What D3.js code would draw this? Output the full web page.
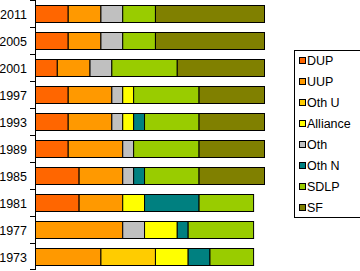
<!DOCTYPE html>
<html>
<head>
<meta charset="utf-8">
<script src="https://cdn.jsdelivr.net/npm/d3@7"></script>
<style>
html,body{margin:0;padding:0;background:#fff;}
svg{display:block;}
</style>
</head>
<body>
<svg id="chart" width="360" height="271"></svg>
<script>
const years = ["2011","2005","2001","1997","1993","1989","1985","1981","1977","1973"];
const parties = ["DUP","UUP","Oth U","Alliance","Oth","Oth N","SDLP","SF"];
const stackOrder = ["DUP","UUP","Oth U","Oth","Alliance","Oth N","SDLP","SF"];
const colors = ["#FF6600","#FF9900","#FFCC00","#FFFF00","#C0C0C0","#008080","#99CC00","#808000"];
// seats per year, in party order
const DUP      = [3,3,2,3,3,3,4,4,0,0];
const UUP      = [3,3,3,4,4,5,4,4,8,6];
const OthU     = [0,0,0,0,0,0,0,0,0,5];
const Alliance = [0,0,0,1,1,0,0,2,3,3];
const Oth      = [2,2,2,1,1,1,1,0,2,0];
const OthN     = [0,0,0,0,1,0,1,5,1,2];
const SDLP     = [3,3,6,6,5,6,5,5,6,4];
const SF       = [10,10,8,6,6,6,6,0,0,0];
const xMax = 21;

const series = [DUP,UUP,OthU,Alliance,Oth,OthN,SDLP,SF];
const rows = years.map((y,i)=>{
  const r = {year:y};
  parties.forEach((p,j)=>{ r[p] = series[j][i]; });
  return r;
});

const svg = d3.select("#chart");
const x = d3.scaleLinear().domain([0,xMax]).range([35.5,264.5]);
const yOuter = d3.scaleBand().domain(years).range([0,270]).padding(0);
const y = d3.scaleBand().domain(years).range([0,270]).paddingInner(10/27).paddingOuter(5/27);
const color = d3.scaleOrdinal().domain(parties).range(colors);

const stack = d3.stack().keys(stackOrder)(rows);

const g = svg.append("g");
stack.forEach(layer=>{
  g.selectAll(null).data(layer.filter(d=>d[1]>d[0])).enter().append("rect")
    .attr("x", d=>x(d[0]))
    .attr("y", d=>Math.round(y(d.data.year))+0.5)
    .attr("width", d=>x(d[1])-x(d[0]))
    .attr("height", Math.round(y.bandwidth()))
    .attr("fill", color(layer.key))
    .attr("stroke","#000")
    .attr("stroke-width",1);
});

// Axis
const ax = svg.append("g");
ax.append("line").attr("x1",35.5).attr("x2",35.5).attr("y1",0).attr("y2",270).attr("stroke","#000");
const tickYs = [0].concat(years.map(d=>yOuter(d)+yOuter.bandwidth()));
ax.selectAll(null).data(tickYs).enter().append("line")
  .attr("x1",30).attr("x2",35.5)
  .attr("y1",d=>Math.min(Math.round(d),269)+0.5).attr("y2",d=>Math.min(Math.round(d),269)+0.5)
  .attr("stroke","#000");
ax.selectAll(null).data(years).enter().append("text")
  .attr("x",27).attr("y",d=>yOuter(d)+yOuter.bandwidth()/2+1)
  .attr("text-anchor","end").attr("dominant-baseline","central")
  .attr("font-family","Liberation Sans, Arial, sans-serif").attr("font-size",12.5)
  .attr("fill","#000").text(d=>d);

// Legend
const lg = svg.append("g");
lg.append("rect").attr("x",294.5).attr("y",50.5).attr("width",80).attr("height",167)
  .attr("fill","#fff").attr("stroke","#000");
const items = lg.selectAll(null).data(parties).enter().append("g")
  .attr("transform",(d,i)=>`translate(0,${60.5+i*21})`);
items.append("rect").attr("x",299.5).attr("y",-3).attr("width",6).attr("height",6)
  .attr("fill",d=>color(d)).attr("stroke","#000");
items.append("text").attr("x",307).attr("y",0.5).attr("dominant-baseline","central")
  .attr("font-family","Liberation Sans, Arial, sans-serif").attr("font-size",12.5)
  .attr("fill","#000").text(d=>d);
</script>
</body>
</html>
